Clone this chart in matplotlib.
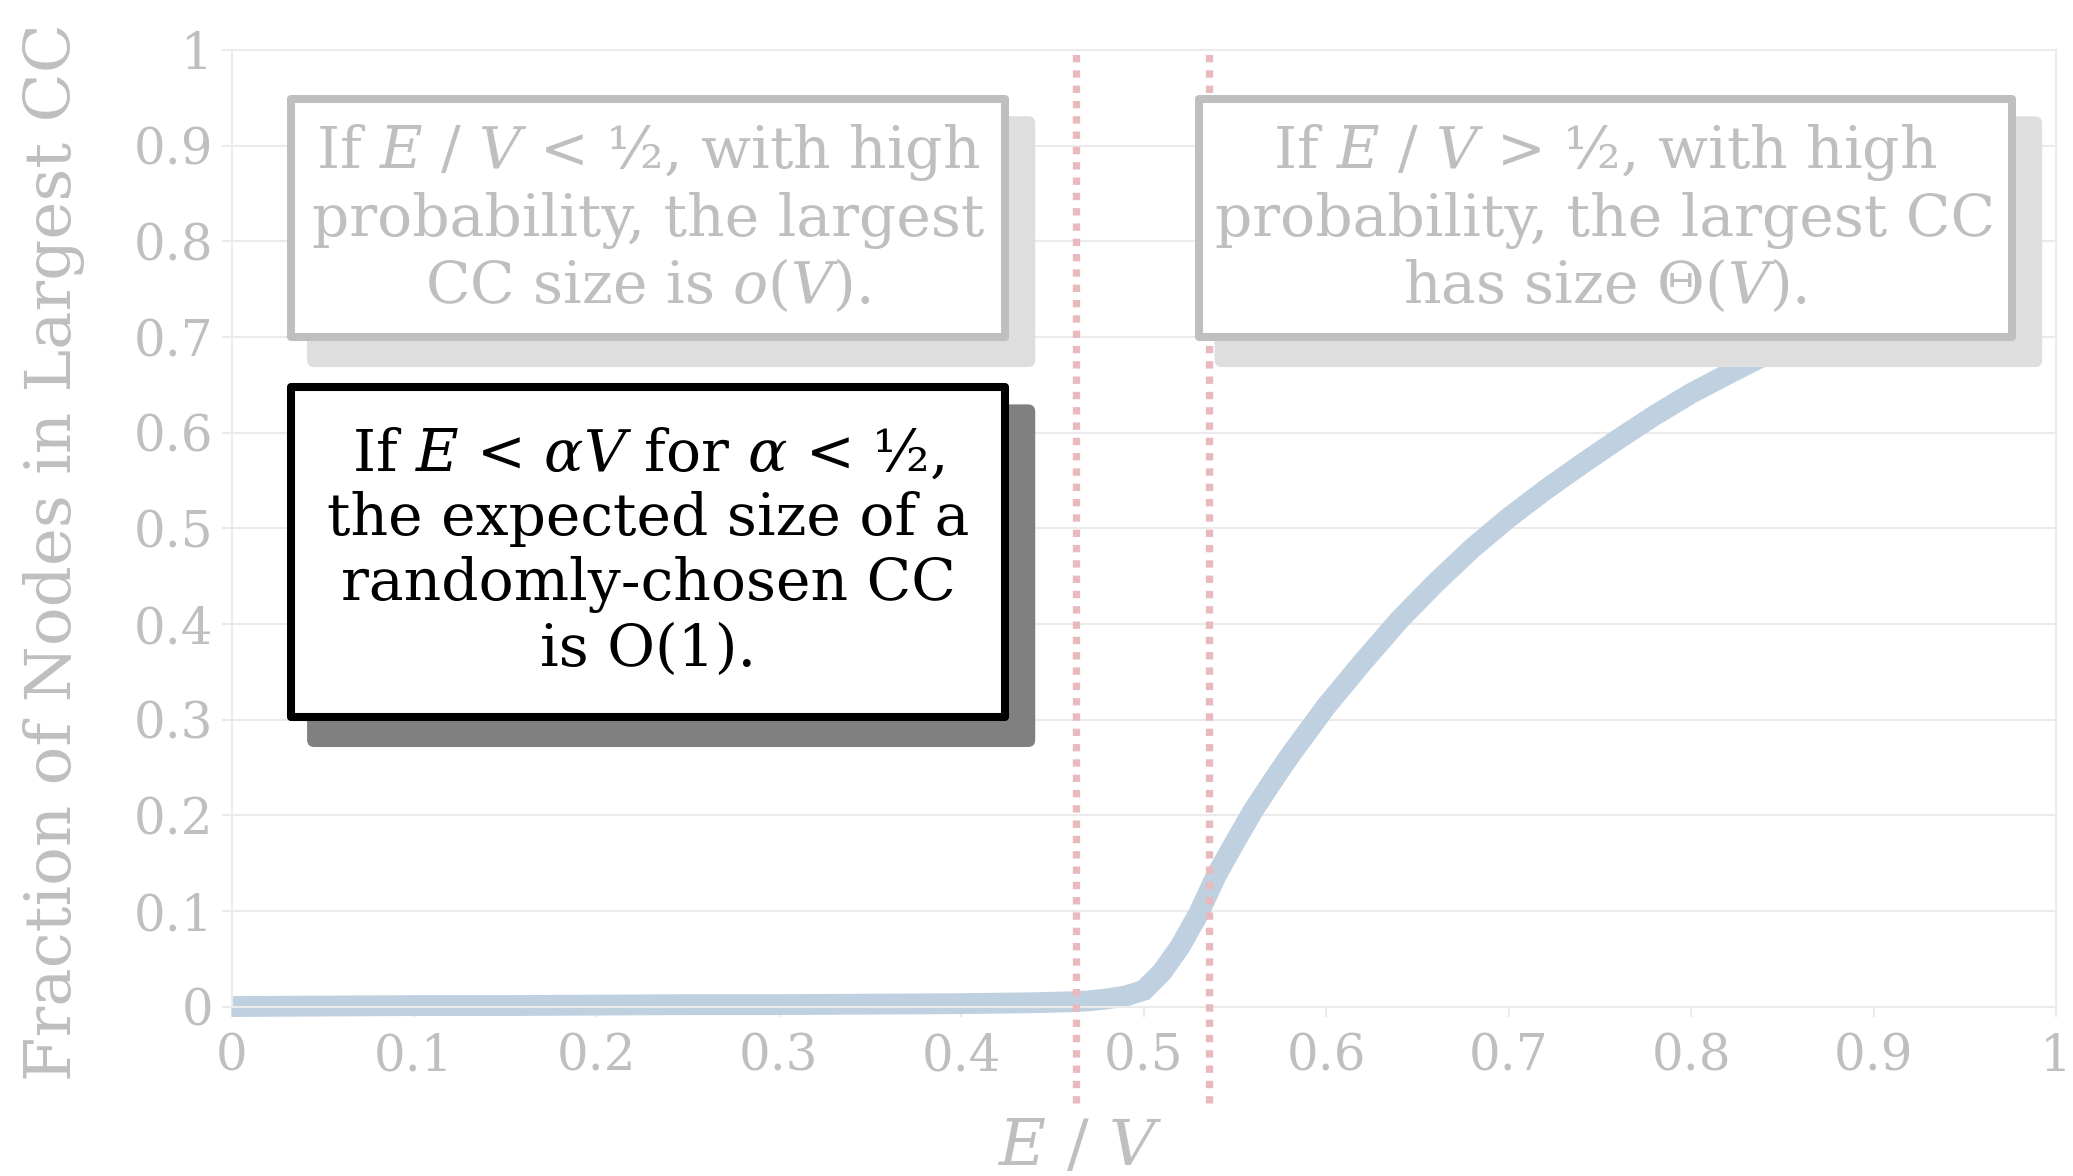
import matplotlib
matplotlib.use('Agg')
import matplotlib.pyplot as plt
from matplotlib.patches import Rectangle, FancyBboxPatch

plt.rcParams['font.family'] = 'DejaVu Serif'
plt.rcParams['mathtext.fontset'] = 'dejavuserif'

# fraction of nodes in the largest connected component vs E / V
edge_ratio = [0.0, 0.05, 0.1, 0.15, 0.2, 0.25, 0.3, 0.35, 0.4, 0.44, 0.46, 0.47, 0.48,
              0.49, 0.5, 0.51, 0.52, 0.53, 0.54, 0.55, 0.56, 0.57, 0.58, 0.59, 0.6, 0.62,
              0.64, 0.66, 0.68, 0.7, 0.72, 0.74, 0.76, 0.78, 0.8, 0.82, 0.85, 0.9, 0.95, 0.99]
largest_cc = [0.0, 0.0005, 0.001, 0.001, 0.0015, 0.002, 0.002, 0.0025, 0.003, 0.004, 0.005,
              0.006, 0.008, 0.011, 0.017, 0.036, 0.063, 0.097, 0.138, 0.172, 0.205, 0.234,
              0.262, 0.288, 0.314, 0.36, 0.404, 0.443, 0.479, 0.511, 0.54, 0.567, 0.593,
              0.618, 0.641, 0.661, 0.69, 0.731, 0.766, 0.79]
threshold_lines = [0.463, 0.536]

ticks = [0, 0.1, 0.2, 0.3, 0.4, 0.5, 0.6, 0.7, 0.8, 0.9, 1]
tick_labels = ['0', '0.1', '0.2', '0.3', '0.4', '0.5', '0.6', '0.7', '0.8', '0.9', '1']

box_texts = [
    'If $E$ / $V$ < ½, with high\nprobability, the largest\nCC size is $o(V)$.',
    'If $E$ / $V$ > ½, with high\nprobability, the largest CC\nhas size $\\Theta(V)$.',
    'If $E$ < $\\alpha V$ for $\\alpha$ < ½,\nthe expected size of a\nrandomly-chosen CC\nis O(1).',
]

GRAY = '#bfbfbf'
LIGHT = '#ebebeb'

fig = plt.figure(figsize=(20.73, 11.76), dpi=100)
ax = fig.add_axes([0.1117, 0.1441, 0.8801, 0.8134])

ax.plot(edge_ratio, largest_cc, color='#bfd0e0', linewidth=15, solid_capstyle='butt',
        solid_joinstyle='miter', clip_on=False, zorder=2)

for xv in threshold_lines:
    ax.plot([xv, xv], [-0.101, 1.0], color='#e9babd', linewidth=5.3,
            linestyle=(0, (1.0, 1.08)), dash_capstyle='butt', clip_on=False, zorder=3)

ax.set_xlim(0, 1)
ax.set_ylim(0, 1)
ax.set_xticks(ticks)
ax.set_xticklabels(tick_labels)
ax.set_yticks(ticks)
ax.set_yticklabels(tick_labels)
ax.tick_params(colors=LIGHT, labelcolor=GRAY, labelsize=36, length=7, width=1.5)
ax.tick_params(axis='x', pad=11.4)
ax.tick_params(axis='y', pad=6.3)
ax.grid(axis='y', color=LIGHT, linewidth=1.5)
ax.set_axisbelow(True)
for s in ax.spines.values():
    s.set_color(LIGHT)
    s.set_linewidth(1.5)

fig.text(0.0262, 0.5303, 'Fraction of Nodes in Largest CC', rotation=90, color=GRAY,
         fontsize=46.3, ha='center', va='center')
fig.text(0.521, 0.0245, '$E$ / $V$', color=GRAY, fontsize=46.4, ha='center', va='center')

# boxes: (x0, y0, width, height) in axes fraction, border colour, shadow colour, text colour
boxes = [
    (0.0326, 0.6995, 0.3913, 0.2492, GRAY, '#dedede', GRAY),
    (0.5300, 0.6995, 0.4458, 0.2492, GRAY, '#dedede', GRAY),
    (0.0326, 0.3023, 0.3913, 0.3452, 'black', '#808080', 'black'),
]
for (x0, y0, w, h, ec, sc, tc), txt in zip(boxes, box_texts):
    sx0, sy0 = x0 + 0.0088, y0 - 0.031
    shadow = FancyBboxPatch((sx0, sy0), w + 0.0078, h + 0.013, transform=ax.transAxes,
                            boxstyle='round,pad=0,rounding_size=0.004',
                            mutation_aspect=1.9, facecolor=sc, edgecolor='none',
                            clip_on=False, zorder=4)
    ax.add_patch(shadow)
    rect = Rectangle((x0, y0), w, h, transform=ax.transAxes, facecolor='white',
                     edgecolor=ec, linewidth=5.8, joinstyle='round', clip_on=False, zorder=5)
    ax.add_patch(rect)
    ax.text(x0 + w / 2, y0 + h / 2, txt, transform=ax.transAxes, ha='center', va='center',
            multialignment='center', fontsize=42, color=tc, linespacing=1.2, zorder=6)

fig.savefig('out.png', dpi=100)
